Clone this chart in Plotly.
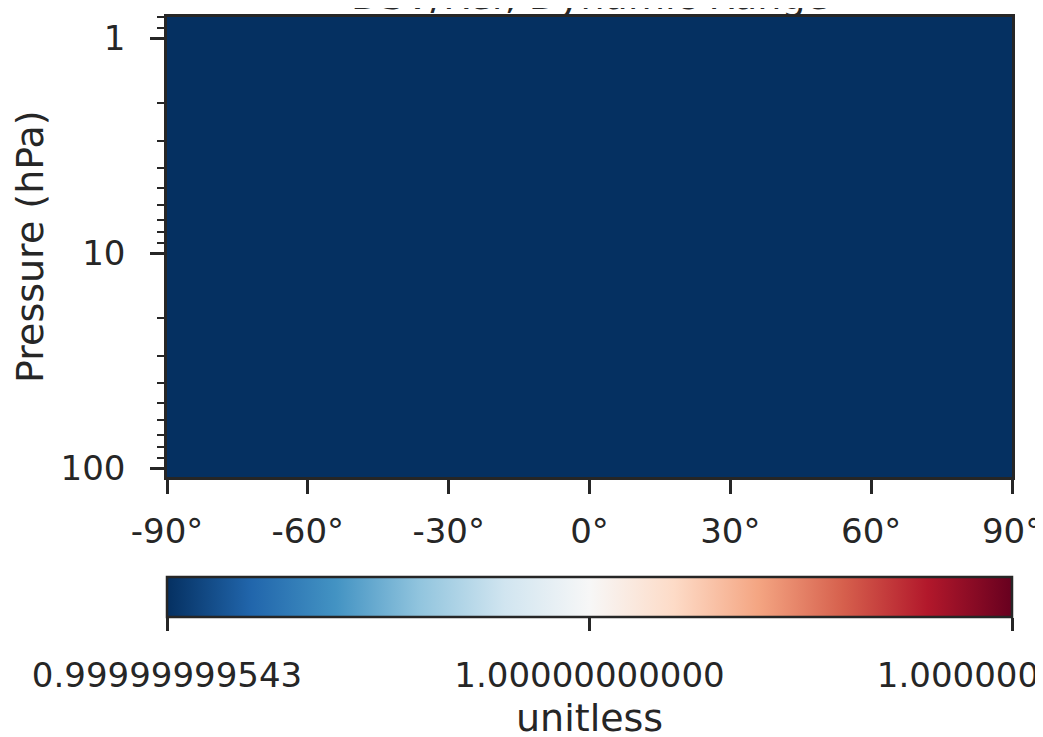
import math
import plotly.graph_objects as go

# ---- data ----
latitudes = [-90, -80, -70, -60, -50, -40, -30, -20, -10, 0, 10, 20, 30, 40, 50, 60, 70, 80, 90]
pressures = [0.7, 1, 2, 3, 5, 7, 10, 20, 30, 50, 70, 100, 120]
level_values = [0.99999999543, 0.99999999543, 0.99999999543, 0.99999999543, 0.99999999543,
                0.99999999543, 0.99999999543, 0.99999999543, 0.99999999543, 0.99999999543,
                0.99999999543, 0.99999999543, 0.99999999543]
x_tick_vals = [-90, -60, -30, 0, 30, 60, 90]
x_tick_text = ["-90°", "-60°", "-30°", "0°", "30°", "60°", "90°"]
y_tick_vals = [1, 10, 100]
y_tick_text = ["1", "10", "100"]
y_minor_vals = [0.8, 0.9, 2, 3, 4, 5, 6, 7, 8, 9, 20, 30, 40, 50, 60, 70, 80, 90]
cbar_min = 0.99999999543
cbar_max = 1.00000000457
cbar_tick_vals = [0.99999999543, 1.0, 1.00000000457]
cbar_tick_text = ["0.99999999543", "1.00000000000", "1.00000000457"]

z = [[v for _ in latitudes] for v in level_values]

INK = "#262626"
FONT = "DejaVu Sans"
TICK_SIZE = 34
LABEL_SIZE = 38
# page body has an 8px margin in the browser, so the figure is drawn 8px smaller
FIG_W, FIG_H = 1035, 729

fig = go.Figure(
    go.Heatmap(
        x=latitudes,
        y=pressures,
        z=z,
        zmin=cbar_min,
        zmax=cbar_max,
        colorscale="RdBu_r",
        colorbar=dict(
            orientation="h",
            x=0.5,
            xanchor="center",
            y=-0.2174,
            yanchor="top",
            len=1.0,
            lenmode="fraction",
            thickness=40,
            outlinewidth=2.5,
            outlinecolor=INK,
            tickmode="array",
            tickvals=cbar_tick_vals,
            ticktext=[f'<span style="font-size:{TICK_SIZE}px">{t}</span>' for t in cbar_tick_text],
            ticks="outside",
            ticklen=13,
            tickwidth=2.5,
            tickcolor=INK,
            ticklabeloverflow="allow",
            tickfont=dict(family=FONT, size=47, color=INK),
            xpad=0,
            ypad=0,
        ),
    )
)

fig.update_xaxes(
    range=[-90, 90],
    tickmode="array",
    tickvals=x_tick_vals,
    ticktext=x_tick_text,
    ticks="outside",
    ticklen=14,
    tickwidth=2.5,
    tickcolor=INK,
    showline=True,
    linewidth=2.5,
    linecolor=INK,
    mirror=True,
    showgrid=False,
    zeroline=False,
    automargin=False,
    ticklabeloverflow="allow",
    tickfont=dict(family=FONT, size=TICK_SIZE, color=INK),
    ticklabelstandoff=8,
)

fig.update_yaxes(
    type="log",
    range=[math.log10(110), math.log10(0.798)],
    tickmode="array",
    tickvals=y_tick_vals,
    ticktext=y_tick_text,
    ticks="outside",
    ticklen=14,
    tickwidth=2.5,
    tickcolor=INK,
    minor=dict(tickmode="array", tickvals=y_minor_vals, ticks="outside", ticklen=7,
               tickwidth=1.5, tickcolor=INK, showgrid=False),
    showline=True,
    linewidth=2.5,
    linecolor=INK,
    mirror=True,
    showgrid=False,
    zeroline=False,
    automargin=False,
    ticklabeloverflow="allow",
    tickfont=dict(family=FONT, size=TICK_SIZE, color=INK),
    ticklabelstandoff=18,
)

fig.add_annotation(
    text="Pressure (hPa)", xref="paper", yref="paper", x=(30 - 167) / 845, y=0.5,
    xanchor="center", yanchor="middle", textangle=-90, showarrow=False,
    font=dict(family=FONT, size=LABEL_SIZE, color=INK),
)
fig.add_annotation(
    text="DSV/Ref, Dynamic Range", xref="paper", yref="paper", x=(590 - 167) / 845,
    y=1.0 - 2.5 / 460, yanchor="bottom", showarrow=False,
    font=dict(family=FONT, size=LABEL_SIZE, color=INK),
)
fig.add_annotation(
    text="unitless", xref="paper", yref="paper", x=0.5, y=-(718 - 477) / 460,
    yanchor="middle", showarrow=False, font=dict(family=FONT, size=LABEL_SIZE, color=INK),
)

fig.update_layout(
    width=FIG_W,
    height=FIG_H,
    margin=dict(l=159, r=31, t=9, b=260),
    paper_bgcolor="white",
    plot_bgcolor="white",
    font=dict(family=FONT, color=INK),
)

fig.write_html("out.html")
